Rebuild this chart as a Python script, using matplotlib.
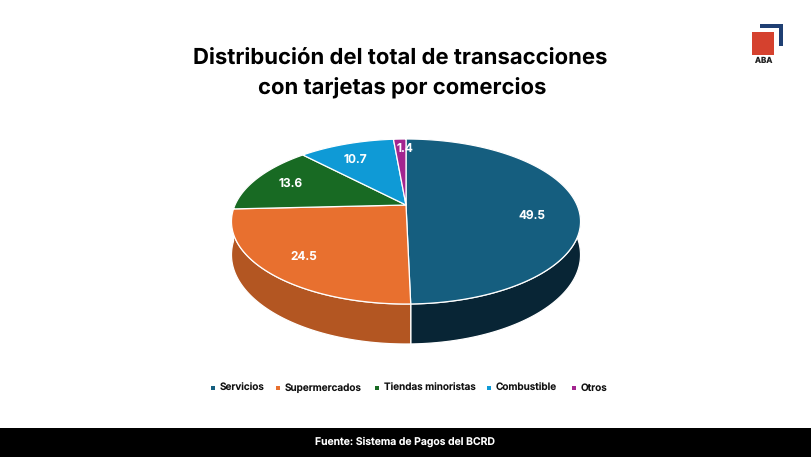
import numpy as np
import matplotlib.pyplot as plt
from matplotlib.patches import Polygon, Rectangle

categories = ['Servicios', 'Supermercados', 'Tiendas minoristas', 'Combustible', 'Otros']
values = [49.5, 24.5, 13.6, 10.7, 1.4]
top_colors = ['#155E7F', '#E8702F', '#186A23', '#0F9AD6', '#A3258F']
side_colors = ['#082535', '#B35622', '#10481A', '#0A6A94', '#701A63']

title_lines = ['Distribución del total de transacciones', 'con tarjetas por comercios']
source = 'Fuente: Sistema de Pagos del BCRD'
legend_x = [220, 285, 384, 496, 581]
label_nudge = [(-2, 11), (-4, 3), (-3, -1), (-4, 2), (4, -4)]

plt.rcParams['font.family'] = ['Inter', 'DejaVu Sans']
plt.rcParams['text.hinting'] = 'no_hinting'
plt.rcParams['text.hinting_factor'] = 1

# pie geometry in pixels, drawn with a simple perspective so the apex sits above centre
cx, cy = 406, 205
rx, ry = 171, 79.2
persp = 0.2
depth = 32


def project(theta, r=1.0):
    u = r * np.sin(theta)
    v = -r * np.cos(theta)
    w = 1 - persp * v
    return cx + rx * u / w, cy + ry * v / w, w


fig = plt.figure(figsize=(8.12, 4.57), dpi=100)
ax = fig.add_axes([0, 0, 1, 1])
ax.set_xlim(0, 812)
ax.set_ylim(457, 0)
ax.axis('off')

edges = np.cumsum([0] + values) / sum(values) * 2 * np.pi

# sides first, then tops so they cover the back of the rim
for i in [3, 4, 2, 0, 1]:
    t = np.linspace(edges[i], edges[i + 1], 200)
    x, y, w = project(t)
    pts = np.r_[np.c_[x, y], np.c_[x, y + depth / w][::-1]]
    ax.add_patch(Polygon(pts, closed=True, fc=side_colors[i], ec='white', lw=0.9, joinstyle='round'))

for i in range(len(values)):
    t = np.linspace(edges[i], edges[i + 1], 200)
    x, y, w = project(t)
    pts = np.r_[[[cx, cy]], np.c_[x, y]]
    ax.add_patch(Polygon(pts, closed=True, fc=top_colors[i], ec='white', lw=0.9, joinstyle='round'))

    mid = (edges[i] + edges[i + 1]) / 2
    lx, ly, _ = project(mid, 0.75)
    ax.text(lx + label_nudge[i][0], ly + label_nudge[i][1], f'{values[i]:.1f}', color='white',
            fontsize=8.6, fontweight='semibold', ha='center', va='center')

ax.text(400, 59, title_lines[0], fontsize=15.9, fontweight='bold', ha='center', va='center', color='black')
ax.text(402, 88, title_lines[1], fontsize=15.9, fontweight='bold', ha='center', va='center', color='black')

# legend
for name, col, lx in zip(categories, top_colors, legend_x):
    ax.add_patch(Rectangle((lx - 9, 386), 4, 4, fc=col, ec='none'))
    ax.text(lx, 390.7, name, fontsize=7.2, fontweight='semibold', ha='left', va='baseline', color='#111111')

# footer band
ax.add_patch(Rectangle((0, 428), 812, 29, fc='black', ec='none'))
ax.text(405, 442, source, fontsize=7.5, fontweight='semibold', ha='center', va='center', color='white')

# logo
ax.add_patch(Polygon([(760, 24), (783, 24), (783, 46), (779, 46), (779, 28), (760, 28)],
                     closed=True, fc='#1F3F73', ec='none'))
ax.add_patch(Rectangle((752, 32), 22.5, 23, fc='#D5412E', ec='none'))
ax.text(763.5, 60.5, 'ABA', fontsize=5.8, fontweight='bold', ha='center', va='center', color='#222222')

fig.savefig('out.png', dpi=100)
